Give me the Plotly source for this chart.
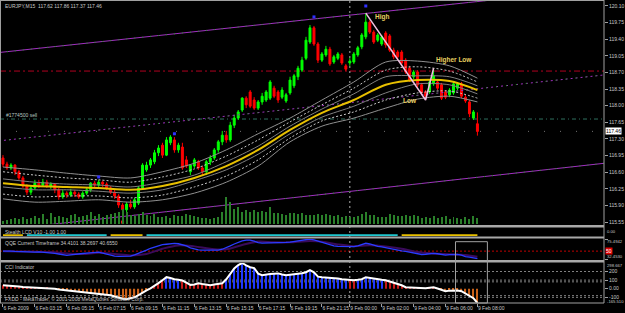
import plotly.graph_objects as go

# ---------------- data ----------------
bars = list(range(120))
time_tick_bars = [0, 8, 16, 24, 32, 40, 48, 56, 64, 72, 80, 87, 95, 103, 111, 119]
time_tick_labels = ["6 Feb 2009", "6 Feb 03:15", "6 Feb 05:15", "6 Feb 07:15", "6 Feb 09:15",
                    "6 Feb 11:15", "6 Feb 13:15", "6 Feb 15:15", "6 Feb 17:15", "6 Feb 19:15",
                    "6 Feb 21:15", "9 Feb 00:00", "9 Feb 02:00", "9 Feb 04:00", "9 Feb 06:00",
                    "9 Feb 08:00"]
price_ticks = [120.10, 119.75, 119.40, 119.05, 118.70, 118.35, 118.00, 117.65,
               117.30, 116.95, 116.60, 116.25, 115.90, 115.55]

opens = [116.90, 116.77, 116.69, 116.75, 116.61, 116.48, 116.31, 116.18, 116.27, 116.37,
         116.33, 116.39, 116.31, 116.35, 116.23, 116.08, 116.16, 116.12, 116.18, 116.14,
         116.08, 116.16, 116.23, 116.37, 116.33, 116.39, 116.35, 116.27, 116.18, 116.10,
         115.91, 115.81, 115.93, 115.87, 115.95, 116.27, 116.65, 116.75, 116.82, 117.01,
         117.17, 116.96, 117.22, 117.28, 117.07, 117.13, 116.86, 116.61, 116.73, 116.82,
         116.69, 116.61, 116.82, 116.90, 117.07, 117.24, 117.38, 117.28, 117.59, 117.74,
         117.91, 118.16, 118.29, 118.12, 117.95, 118.08, 118.12, 118.16, 118.37, 118.29,
         118.18, 118.10, 118.27, 118.42, 118.61, 118.75, 119.00, 119.34, 119.64, 119.30,
         118.96, 119.07, 119.19, 118.92, 119.00, 119.07, 118.84, 118.90, 118.92, 119.07,
         119.24, 119.45, 119.76, 119.55, 119.38, 119.30, 119.53, 119.47, 119.17, 119.13,
         119.13, 118.96, 118.79, 118.61, 118.71, 118.44, 118.29, 118.29, 118.46, 118.50,
         118.44, 118.29, 118.23, 118.27, 118.37, 118.46, 118.18, 118.08, 117.74, 117.62]
closes = [116.77, 116.69, 116.75, 116.61, 116.48, 116.31, 116.18, 116.27, 116.37, 116.33,
          116.39, 116.31, 116.35, 116.23, 116.08, 116.16, 116.12, 116.18, 116.14, 116.08,
          116.16, 116.23, 116.37, 116.33, 116.39, 116.35, 116.27, 116.18, 116.10, 115.91,
          115.81, 115.93, 115.87, 116.02, 116.27, 116.75, 116.75, 116.86, 117.01, 117.11,
          116.96, 117.28, 117.34, 117.07, 117.17, 116.69, 116.73, 116.75, 116.86, 116.69,
          116.61, 116.82, 116.90, 117.07, 117.24, 117.38, 117.28, 117.59, 117.74, 117.87,
          118.16, 118.02, 117.99, 117.95, 118.08, 118.20, 118.29, 118.50, 118.20, 118.12,
          118.33, 118.23, 118.54, 118.63, 118.79, 118.96, 119.38, 119.64, 119.30, 118.96,
          119.09, 119.19, 118.88, 119.03, 119.09, 118.90, 118.77, 118.94, 119.09, 119.22,
          119.49, 119.76, 119.55, 119.34, 119.49, 119.45, 119.28, 119.17, 119.03, 119.03,
          118.90, 118.71, 118.54, 118.71, 118.44, 118.27, 118.20, 118.50, 118.63, 118.37,
          118.16, 118.18, 118.33, 118.46, 118.46, 118.20, 118.10, 117.83, 117.87, 117.46]
highs = [116.96, 116.82, 116.79, 116.77, 116.65, 116.52, 116.35, 116.31, 116.44, 116.44,
         116.46, 116.44, 116.39, 116.37, 116.27, 116.23, 116.20, 116.25, 116.23, 116.18,
         116.20, 116.27, 116.39, 116.42, 116.44, 116.42, 116.39, 116.31, 116.23, 116.14,
         115.95, 115.97, 116.02, 116.06, 116.31, 116.79, 116.82, 116.90, 117.07, 117.17,
         117.22, 117.34, 117.38, 117.34, 117.22, 117.22, 116.94, 116.77, 116.90, 116.86,
         116.73, 116.86, 116.96, 117.11, 117.28, 117.47, 117.47, 117.66, 117.81, 117.91,
         118.18, 118.20, 118.33, 118.18, 118.12, 118.27, 118.33, 118.54, 118.42, 118.33,
         118.39, 118.27, 118.61, 118.67, 118.84, 119.03, 119.45, 119.70, 119.68, 119.34,
         119.13, 119.26, 119.24, 119.07, 119.13, 119.11, 118.88, 119.00, 119.13, 119.26,
         119.53, 119.95, 119.80, 119.59, 119.53, 119.49, 119.57, 119.51, 119.22, 119.17,
         119.17, 119.00, 118.84, 118.75, 118.75, 118.48, 118.33, 118.54, 118.79, 118.54,
         118.48, 118.33, 118.37, 118.50, 118.50, 118.50, 118.23, 118.12, 117.91, 117.86]
lows = [116.71, 116.65, 116.65, 116.54, 116.44, 116.27, 116.12, 116.12, 116.23, 116.27,
        116.29, 116.27, 116.25, 116.16, 116.02, 116.04, 116.06, 116.08, 116.08, 116.04,
        116.04, 116.12, 116.18, 116.27, 116.29, 116.29, 116.23, 116.14, 116.04, 115.85,
        115.72, 115.76, 115.83, 115.83, 115.91, 116.23, 116.61, 116.69, 116.77, 116.94,
        116.90, 116.94, 117.17, 117.01, 117.01, 116.65, 116.69, 116.54, 116.69, 116.65,
        116.52, 116.54, 116.75, 116.86, 117.01, 117.17, 117.22, 117.24, 117.53, 117.70,
        117.87, 117.95, 117.95, 117.91, 117.91, 118.02, 118.08, 118.12, 118.16, 118.06,
        118.14, 118.06, 118.23, 118.37, 118.54, 118.71, 118.96, 119.30, 119.26, 118.90,
        118.92, 119.03, 118.84, 118.88, 118.96, 118.86, 118.73, 118.84, 118.88, 119.03,
        119.19, 119.40, 119.51, 119.30, 119.34, 119.26, 119.22, 119.13, 118.98, 118.98,
        118.86, 118.67, 118.50, 118.56, 118.39, 118.23, 118.12, 118.25, 118.42, 118.33,
        118.12, 118.14, 118.18, 118.23, 118.33, 118.16, 118.06, 117.76, 117.70, 117.37]

volume = [90, 120, 150, 180, 150, 210, 150, 180, 240, 180, 300, 150, 330, 210, 240, 210, 180,
          270, 300, 210, 240, 270, 360, 240, 300, 210, 270, 300, 330, 360, 450, 360, 270, 240,
          300, 360, 270, 240, 300, 210, 210, 240, 180, 270, 240, 240, 300, 270, 240, 210, 180,
          180, 150, 180, 210, 360, 810, 660, 450, 510, 360, 420, 360, 420, 360, 390, 360, 510,
          330, 330, 300, 270, 330, 330, 300, 330, 270, 270, 270, 300, 270, 300, 270, 240, 270,
          210, 240, 210, 210, 240, 300, 360, 270, 270, 210, 210, 210, 300, 270, 240, 240, 270,
          240, 270, 240, 180, 210, 180, 240, 180, 210, 240, 150, 210, 180, 150, 210, 150, 240,
          180]

# moving average / envelope lines read at every 8th bar
ma_bars = [0, 8, 16, 24, 32, 40, 48, 56, 64, 72, 80, 88, 96, 104, 112, 119]
ma_yellow = [116.37, 116.31, 116.29, 116.27, 116.23, 116.31, 116.48, 116.73, 117.07, 117.49,
             117.85, 118.12, 118.44, 118.54, 118.52, 118.33]
env_up_outer = [116.71, 116.65, 116.58, 116.52, 116.48, 116.61, 116.79, 117.07, 117.41, 117.74,
                118.12, 118.50, 118.92, 118.94, 118.84, 118.58]
env_up_mid = [116.61, 116.54, 116.48, 116.44, 116.39, 116.50, 116.67, 116.94, 117.28, 117.66,
              118.02, 118.37, 118.75, 118.82, 118.73, 118.50]
env_up_inner = [116.46, 116.39, 116.35, 116.33, 116.29, 116.39, 116.54, 116.82, 117.15, 117.57,
                117.93, 118.25, 118.61, 118.63, 118.61, 118.42]
env_dn_inner = [116.29, 116.23, 116.23, 116.20, 116.16, 116.23, 116.42, 116.65, 116.98, 117.41,
                117.76, 117.99, 118.27, 118.46, 118.44, 118.25]
env_dn_mid = [116.14, 116.08, 116.10, 116.10, 116.06, 116.12, 116.29, 116.52, 116.86, 117.32,
              117.68, 117.87, 118.12, 118.27, 118.31, 118.16]
env_dn_outer = [116.04, 115.97, 115.99, 116.02, 115.97, 116.02, 116.16, 116.39, 116.73, 117.24,
                117.57, 117.74, 117.95, 118.14, 118.20, 118.08]

# trend channel
chan_bars = [-1, 151]
chan_upper = [119.12, 120.48]
chan_mid = [117.26, 118.65]
chan_lower = [115.38, 116.79]

# zigzag High -> Low -> Higher Low
zz_bars = [91, 106, 108]
zz_prices = [119.95, 118.12, 118.79]

frac_up_bars = [24, 43, 78, 91]
frac_up_prices = [116.50, 117.41, 119.87, 120.10]
frac_dn_bars = [30]
frac_dn_prices = [115.55]

level_red = 118.73
level_order = 117.72
bid = 117.46

stealth_state = [-1, -1, -1, -1, -1, -1, 1, 1, 1, 1, 1, 1, 1, 1, 1, 1, 1, 1, 1, 1, 1, 1, 1, 1,
                 1, 1, 1, -1, -1, -1, -1, -1, -1, -1, -1, -1, 1, 1, 1, 1, 1, 1, 1, 1, 1, 1, 1, 1,
                 1, 1, 1, 1, 1, 1, 1, 1, 1, 1, 1, 1, 1, 1, 1, 1, 1, 1, 1, 1, 1, 1, 1, 1, 1, 1,
                 1, 1, 1, 1, 1, 1, 1, 1, 1, 1, 1, 1, 1, 1, 1, 1, 1, 1, 1, 1, 1, 1, 1, 1, 1, 1,
                 -1, -1, -1, -1, -1, -1, -1, -1, -1, -1, -1, -1, -1, -1, -1, -1, -1, -1, -1, -1]

qqe_main = [50.0, 50.5, 50.0, 49.5, 49.0, 48.5, 48.0, 47.5, 48.0, 48.5, 48.0,
            47.5, 46.5, 45.5, 44.0, 42.0, 41.0, 42.0, 43.5, 44.5,
            45.0, 46.0, 47.0, 47.5, 48.0, 46.0, 43.5, 41.0, 39.5, 39.0,
            38.9, 38.5, 39.5, 42.0, 45.0, 48.0, 52.0, 56.0, 59.0, 62.0,
            63.5, 64.5, 66.0, 66.5, 65.5, 63.5, 61.0, 57.0,
            54.0, 52.5, 52.0, 51.8, 51.8, 51.8, 52.0, 54.0, 57.0, 61.0,
            65.0, 69.0, 71.5, 73.0, 73.3, 71.0, 68.0, 67.0, 67.0,
            67.0, 67.0, 67.5, 68.0, 68.5, 69.0, 70.0, 71.0, 72.5, 74.0, 75.49,
            73.5, 71.0, 69.0, 66.0, 62.6, 61.0, 60.0, 59.5, 59.0, 59.0, 59.5, 61.0,
            64.0, 66.5, 65.0, 62.0, 60.0, 59.0, 57.0, 55.0, 53.0, 51.8,
            50.5, 49.5, 48.0, 46.0, 43.5, 43.0, 43.5, 45.0, 45.5, 44.5,
            42.5, 41.5, 42.5, 43.5, 43.0, 41.5, 38.5, 37.5, 36.0, 34.41]
qqe_sig_bars = [0, 4, 8, 12, 16, 20, 24, 28, 32, 36, 40, 44, 48, 52, 56, 60, 64, 68, 72, 76,
                80, 84, 88, 92, 96, 100, 104, 108, 112, 116, 119]
qqe_signal = [50.0, 49.5, 48.5, 48.0, 45.0, 44.0, 46.5, 44.0, 41.0, 44.0, 55.0, 62.0, 60.0,
              55.0, 54.0, 63.0, 70.0, 68.5, 68.5, 71.0, 70.0, 64.0, 60.5, 62.5, 60.0, 55.0,
              48.0, 45.0, 43.5, 42.0, 38.27]
qqe_max, qqe_min, qqe_mid = 75.4942, 32.4530, 50

cci = [41, 35, 30, 28, 25, 20, 18, 15, 17, 12, 8, 10, 5,
       0, -10, -15, -20, -25, -30, -35, -41,
       -45, -50, -55, -60, -65, -70, -76,
       -90, -105, -115, -122, -110, -99, -75, -52, -20, 5, 30, 65,
       99, 134, 125, 110, 105, 95, 70, 45, 50, 64,
       55, 45, 41, 50, 58, 64, 110, 170, 235, 275,
       298.667, 270, 250, 240, 175, 157, 160, 170, 175, 178,
       165, 157, 162, 168, 170, 180, 192, 215, 190, 140,
       134, 130, 132, 125, 118, 110, 105, 100, 99, 104,
       110, 134, 125, 115, 108, 105, 99, 85, 70, 55,
       40, 17, 15, 12, 6, 5, 6, 12, 17, 2,
       -15, -29, -22, -17, -20, -29, -55, -80, -110, -165.51]
cci_levels = [200, 100, 80, -80, -100]
cci_max, cci_min = 298.667, -165.51
cci_inner_ticks = [200, 100, 0, -100]
cci_inner_text = ["200", "100", "0.00", "-100"]

# ---------------- layout helpers ----------------
W, H = 625, 313
PW, PH = 606, 303


def pxx(x):
    return x / PW


def pyy(y):
    return (PH - y) / PH


FONT = "Liberation Sans"
TXT = "#c8c8c8"
GRAY = "#a0a0a0"
FS = 5
FS_EDGE = 4.2

fig = go.Figure()

# volume
fig.add_trace(go.Bar(x=bars, y=volume, width=0.25, marker=dict(color="#2a7f2a", line=dict(width=0)),
                     xaxis="x", yaxis="y2", hoverinfo="skip"))

# channel lines
fig.add_trace(go.Scatter(x=chan_bars, y=chan_upper, mode="lines", line=dict(color="#a030c0", width=1),
                         yaxis="y", hoverinfo="skip"))
fig.add_trace(go.Scatter(x=chan_bars, y=chan_upper, mode="lines",
                         line=dict(color="#20a020", width=1, dash="1px,7px"), yaxis="y", hoverinfo="skip"))
fig.add_trace(go.Scatter(x=chan_bars, y=chan_mid, mode="lines",
                         line=dict(color="#a030c0", width=1, dash="2px,3px"), yaxis="y", hoverinfo="skip"))
fig.add_trace(go.Scatter(x=chan_bars, y=chan_mid, mode="lines",
                         line=dict(color="#20a020", width=1, dash="1px,9px"), yaxis="y", hoverinfo="skip"))
fig.add_trace(go.Scatter(x=chan_bars, y=chan_lower, mode="lines", line=dict(color="#a030c0", width=1),
                         yaxis="y", hoverinfo="skip"))
fig.add_trace(go.Scatter(x=chan_bars, y=chan_lower, mode="lines",
                         line=dict(color="#20a020", width=1, dash="1px,7px"), yaxis="y", hoverinfo="skip"))

# envelope lines
for vals, col, dash in [(env_up_outer, "#909090", "solid"), (env_up_mid, "#c8c8c8", "2px,2px"),
                        (env_up_inner, "#808080", "solid"), (env_dn_inner, "#808080", "solid"),
                        (env_dn_mid, "#c8c8c8", "2px,2px"), (env_dn_outer, "#909090", "solid")]:
    fig.add_trace(go.Scatter(x=ma_bars, y=vals, mode="lines", line=dict(color=col, width=1, dash=dash,
                             shape="spline", smoothing=0.8), yaxis="y", hoverinfo="skip"))
fig.add_trace(go.Scatter(x=ma_bars, y=ma_yellow, mode="lines",
                         line=dict(color="#e8c000", width=2, shape="spline", smoothing=0.8),
                         yaxis="y", hoverinfo="skip"))

# candles
fig.add_trace(go.Candlestick(x=bars, open=opens, high=highs, low=lows, close=closes,
                             increasing=dict(line=dict(color="#00ff00", width=1), fillcolor="#00ff00"),
                             decreasing=dict(line=dict(color="#ff0000", width=1), fillcolor="#ff0000"),
                             whiskerwidth=0, xaxis="x", yaxis="y", hoverinfo="skip"))

# zigzag
fig.add_trace(go.Scatter(x=zz_bars, y=zz_prices, mode="lines", line=dict(color="#f0c0e0", width=1.5),
                         yaxis="y", hoverinfo="skip"))

# fractals
fig.add_trace(go.Scatter(x=frac_up_bars, y=frac_up_prices, mode="markers",
                         marker=dict(color="#3030ff", size=3, symbol="square"), yaxis="y", hoverinfo="skip"))
fig.add_trace(go.Scatter(x=frac_dn_bars, y=frac_dn_prices, mode="markers",
                         marker=dict(color="#ff2020", size=3, symbol="square"), yaxis="y", hoverinfo="skip"))

# stealth LCD
st_up = [-1 if s == 1 else None for s in stealth_state]
st_dn = [-1 if s == -1 else None for s in stealth_state]
fig.add_trace(go.Scatter(x=bars, y=st_up, mode="lines", line=dict(color="#20c8d0", width=2),
                         yaxis="y3", hoverinfo="skip", connectgaps=False))
fig.add_trace(go.Scatter(x=bars, y=st_dn, mode="lines", line=dict(color="#e8c000", width=2),
                         yaxis="y3", hoverinfo="skip", connectgaps=False))

# QQE
fig.add_trace(go.Scatter(x=qqe_sig_bars, y=qqe_signal, mode="lines",
                         line=dict(color="#3a0a5a", width=2, shape="spline"), yaxis="y4", hoverinfo="skip"))
fig.add_trace(go.Scatter(x=bars, y=qqe_main, mode="lines", line=dict(color="#2a3cff", width=1.3),
                         yaxis="y4", hoverinfo="skip"))

# CCI histogram + line
cci_colors = ["#2038ff" if v > 100 else ("#c81818" if v >= 0 else "#c86018") for v in cci]
fig.add_trace(go.Bar(x=bars, y=cci, width=0.3, marker=dict(color=cci_colors, line=dict(width=0)),
                     xaxis="x", yaxis="y5", hoverinfo="skip"))
fig.add_trace(go.Scatter(x=bars, y=cci, mode="lines", line=dict(color="#ffffff", width=2),
                         yaxis="y5", hoverinfo="skip"))

shapes = []
shapes.append(dict(type="line", xref="paper", x0=0, x1=1, yref="y", y0=level_red, y1=level_red,
                   line=dict(color="#b00020", width=1, dash="6px,3px,2px,3px"), layer="below"))
shapes.append(dict(type="line", xref="paper", x0=0, x1=1, yref="y", y0=level_order, y1=level_order,
                   line=dict(color="#2f7060", width=1, dash="4px,3px,1px,3px"), layer="below"))
shapes.append(dict(type="line", xref="paper", x0=0, x1=1, yref="y", y0=bid, y1=bid,
                   line=dict(color="#707070", width=1, dash="1px,15px"), layer="below"))
shapes.append(dict(type="line", xref="paper", x0=0, x1=1, yref="y4", y0=qqe_mid, y1=qqe_mid,
                   line=dict(color="#c00000", width=1, dash="2px,2px"), layer="below"))
for lv in cci_levels:
    shapes.append(dict(type="line", xref="paper", x0=0, x1=1, yref="y5", y0=lv, y1=lv,
                       line=dict(color="#808080", width=1, dash="2px,2px"), layer="below"))
shapes.append(dict(type="line", xref="x", x0=87, x1=87, yref="paper", y0=0, y1=1,
                   line=dict(color="#b0b0b0", width=1, dash="2px,3px"), layer="below"))
for y0, y1 in [(225, 227.5), (236.5, 238.5), (260, 262.5)]:
    shapes.append(dict(type="rect", xref="paper", x0=0, x1=1, yref="paper", y0=pyy(y1), y1=pyy(y0),
                       fillcolor="#a8a8a8", line=dict(width=0)))
shapes.append(dict(type="line", xref="paper", x0=1, x1=1, yref="paper", y0=0, y1=1,
                   line=dict(color=GRAY, width=1)))
shapes.append(dict(type="line", xref="paper", x0=0, x1=1, yref="paper", y0=0, y1=0,
                   line=dict(color=GRAY, width=1)))
shapes.append(dict(type="line", xref="paper", x0=pxx(0.5), x1=pxx(0.5), yref="paper", y0=0, y1=1,
                   line=dict(color=GRAY, width=1)))
shapes.append(dict(type="line", xref="paper", x0=0, x1=1, yref="paper", y0=pyy(0.5), y1=pyy(0.5),
                   line=dict(color=GRAY, width=1)))
shapes.append(dict(type="rect", xref="x", x0=113.5, x1=121.5, yref="paper", y0=0, y1=pyy(241.7),
                   line=dict(color="#a0a0a0", width=1), fillcolor="rgba(0,0,0,0)"))


def ann(text, x, y, color=TXT, size=FS, xanchor="left"):
    return dict(text=text, xref="paper", yref="paper", x=pxx(x), y=pyy(y), xanchor=xanchor,
                yanchor="middle", showarrow=False, font=dict(family=FONT, size=size, color=color))


def rlabel(text, y):
    # right-axis edge label (max/min of a sub-window), drawn just inside the panel as MT4 does
    return dict(text=text, xref="paper", yref="paper", x=1, xshift=1, y=pyy(y), xanchor="left",
                yanchor="middle", showarrow=False, font=dict(family=FONT, size=FS_EDGE, color=TXT))


annotations = [
    ann("EURJPY,M15  117.62 117.86 117.37 117.46", 3, 6),
    ann("#1774500 sell", 4, 115, color="#b8c8c0"),
    ann("Stealth LCD V10 -1.00 1.00", 3, 231.5),
    ann("QQE Current Timeframe 34.4101 38.2697 40.6550", 3, 242.5),
    ann("CCI Indicator", 3, 266.5),
    ann("FXDD - MetaTrader, © 2001-2008 MetaQuotes Software Corp.", 3, 298.5),
    dict(text="<b>High</b>", x=95, y=119.87, xref="x", yref="y", showarrow=False, xanchor="center",
         font=dict(family=FONT, size=6.5, color="#e8d060")),
    dict(text="<b>Low</b>", x=102, y=118.10, xref="x", yref="y", showarrow=False, xanchor="center",
         font=dict(family=FONT, size=6.5, color="#e8d060")),
    dict(text="<b>Higher Low</b>", x=113, y=118.96, xref="x", yref="y", showarrow=False,
         xanchor="center", font=dict(family=FONT, size=6.5, color="#e8d060")),
    dict(text=f"{bid:.2f}", x=1, y=bid, xref="paper", yref="y", xanchor="left", xshift=1,
         showarrow=False, bgcolor="#ffffff", borderpad=0,
         font=dict(family=FONT, size=FS, color="#000000")),
    dict(text=str(qqe_mid), x=1, y=qqe_mid, xref="paper", yref="y4", xanchor="left", xshift=1,
         showarrow=False, bgcolor="#e00000", borderpad=0,
         font=dict(family=FONT, size=FS, color="#ffffff")),
    rlabel("0.00", 231.5),
    rlabel(f"{qqe_max:.4f}", 241.5),
    rlabel(f"{qqe_min:.4f}", 256),
    rlabel(f"{cci_max:.3f}", 265),
    rlabel(f"{cci_min:.3f}", 301),
]

axis_common = dict(showgrid=False, zeroline=False, side="right", anchor="x", ticks="outside",
                   ticklen=3, tickcolor=GRAY, tickfont=dict(family=FONT, size=FS, color=TXT),
                   showline=False, fixedrange=True)

fig.update_layout(
    width=W, height=H, margin=dict(l=0, r=W - PW, t=0, b=H - PH),
    paper_bgcolor="#000000", plot_bgcolor="#000000", showlegend=False, barmode="overlay",
    font=dict(family=FONT, size=FS, color=TXT),
    xaxis=dict(domain=[0, 1], range=[-0.75, 150.75], anchor="y5", tickvals=time_tick_bars,
               ticktext=time_tick_labels, ticks="outside", ticklen=3, tickcolor=GRAY, tickangle=0,
               ticklabelposition="outside right", tickfont=dict(family=FONT, size=FS, color=TXT),
               showgrid=False, zeroline=False, showline=False, rangeslider=dict(visible=False),
               fixedrange=True),
    yaxis=dict(domain=[pyy(224), pyy(1)], range=[115.51, 120.205], tickvals=price_ticks,
               ticktext=[f"{v:.2f}" for v in price_ticks], **axis_common),
    yaxis2=dict(overlaying="y", range=[0, 6660], visible=False, fixedrange=True),
    yaxis3=dict(domain=[pyy(236), pyy(228)], range=[-1.2, 1.1], showticklabels=False,
                **{k: v for k, v in axis_common.items() if k != "ticks"}, ticks=""),
    yaxis4=dict(domain=[pyy(259.5), pyy(239)], range=[qqe_min, qqe_max],
                tickvals=[qqe_max, qqe_min], showticklabels=False, **axis_common),
    yaxis5=dict(domain=[0, pyy(263)], range=[cci_min, cci_max], tickvals=cci_inner_ticks,
                ticktext=cci_inner_text, **axis_common),
    shapes=shapes, annotations=annotations,
)

fig.write_html("out.html")
